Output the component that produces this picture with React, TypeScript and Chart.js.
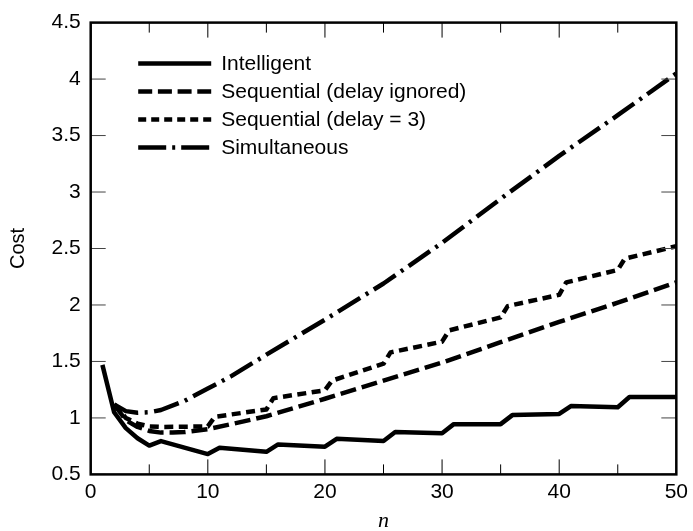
import React, { useEffect, useRef } from 'react';
import { Chart, registerables } from 'chart.js';

Chart.register(...registerables);

const SERIES_NAMES = [
  'Intelligent',
  'Sequential (delay ignored)',
  'Sequential (delay = 3)',
  'Simultaneous',
];

const INTELLIGENT_N = [1, 2, 3, 4, 5, 6, 10, 11, 15, 16, 20, 21, 25, 26, 30, 31, 35, 36, 40, 41, 45, 46, 50];
const INTELLIGENT_COST = [1.47, 1.05, 0.91, 0.82, 0.755, 0.795, 0.68, 0.735, 0.70, 0.765, 0.745, 0.815, 0.795, 0.875, 0.865, 0.945, 0.945, 1.025, 1.035, 1.105, 1.095, 1.185, 1.185];

const SEQ_IGNORED_N = [2, 3, 4, 5, 6, 7, 8, 10, 12, 15, 20, 25, 30, 35, 40, 45, 50];
const SEQ_IGNORED_COST = [1.12, 0.98, 0.92, 0.885, 0.87, 0.87, 0.875, 0.90, 0.945, 1.015, 1.17, 1.33, 1.49, 1.67, 1.85, 2.02, 2.2];

const SEQ_DELAY3_N = [2, 3, 4, 5, 6, 10, 10.6, 15, 15.6, 20, 20.6, 25, 25.6, 30, 30.6, 35, 35.6, 40, 40.6, 45, 45.6, 50];
const SEQ_DELAY3_COST = [1.12, 1.0, 0.95, 0.925, 0.92, 0.925, 1.01, 1.075, 1.175, 1.245, 1.33, 1.48, 1.58, 1.675, 1.775, 1.89, 1.99, 2.09, 2.2, 2.31, 2.41, 2.52];

const SIMULTANEOUS_N = [2, 3, 4, 5, 6, 8, 10, 12, 15, 20, 25, 30, 35, 40, 45, 50];
const SIMULTANEOUS_COST = [1.12, 1.06, 1.045, 1.05, 1.07, 1.15, 1.26, 1.37, 1.56, 1.87, 2.19, 2.55, 2.94, 3.32, 3.68, 4.05];

const X_MAJOR_TICKS = [0, 10, 20, 30, 40, 50];
const X_MINOR_TICKS = [5, 15, 25, 35, 45];
const Y_TICKS = [0.5, 1, 1.5, 2, 2.5, 3, 3.5, 4, 4.5];

const X_TITLE = 'n';
const Y_TITLE = 'Cost';

const SANS = '"Liberation Sans", Arial, Helvetica, sans-serif';
const SERIF = '"Liberation Serif", "Times New Roman", serif';

const toPoints = (xs: number[], ys: number[]) => xs.map((x, i) => ({ x, y: ys[i] }));

const framePlugin = {
  id: 'frameAndLegend',
  afterDatasetsDraw(chart: any) {
    const { ctx, chartArea: a, scales } = chart;
    const x = scales.x;
    const y = scales.y;
    ctx.save();
    ctx.strokeStyle = '#000';
    ctx.setLineDash([]);
    ctx.lineWidth = 1;
    ctx.beginPath();
    for (const v of X_MAJOR_TICKS) {
      const px = x.getPixelForValue(v);
      ctx.moveTo(px, a.bottom);
      ctx.lineTo(px, a.bottom - 15);
      ctx.moveTo(px, a.top);
      ctx.lineTo(px, a.top + 15);
    }
    for (const v of X_MINOR_TICKS) {
      const px = x.getPixelForValue(v);
      ctx.moveTo(px, a.bottom);
      ctx.lineTo(px, a.bottom - 10);
      ctx.moveTo(px, a.top);
      ctx.lineTo(px, a.top + 10);
    }
    ctx.stroke();
    ctx.strokeStyle = '#444';
    ctx.beginPath();
    for (const v of Y_TICKS) {
      const py = y.getPixelForValue(v);
      ctx.moveTo(a.left, py);
      ctx.lineTo(a.left + 15, py);
      ctx.moveTo(a.right, py);
      ctx.lineTo(a.right - 15, py);
    }
    ctx.stroke();
    ctx.strokeStyle = '#000';
    ctx.lineWidth = 2.5;
    ctx.strokeRect(a.left, a.top, a.right - a.left, a.bottom - a.top);

    // legend
    const lx0 = a.left + 47.5;
    const lx1 = a.left + 120.5;
    const tx = a.left + 130.5;
    const rowY0 = a.top + 40.8;
    const rowGap = 28;
    ctx.font = '21px ' + SANS;
    ctx.textBaseline = 'middle';
    ctx.textAlign = 'left';
    chart.data.datasets.forEach((ds: any, i: number) => {
      const ry = rowY0 + i * rowGap;
      ctx.save();
      ctx.lineWidth = 4.5;
      ctx.lineCap = 'butt';
      ctx.setLineDash(ds.legendDash || []);
      ctx.strokeStyle = '#000';
      ctx.beginPath();
      ctx.moveTo(lx0, ry);
      ctx.lineTo(lx1, ry);
      ctx.stroke();
      ctx.restore();
      ctx.fillStyle = '#000';
      ctx.fillText(ds.label, tx, ry + 1);
    });
    ctx.restore();
  },
};

export default function App() {
  const canvasRef = useRef<HTMLCanvasElement | null>(null);

  useEffect(() => {
    document.body.style.margin = '0';
    const canvas = canvasRef.current;
    if (!canvas) return;
    const common = {
      borderColor: '#000',
      backgroundColor: '#000',
      borderWidth: 4.5,
      pointRadius: 0,
      fill: false,
      tension: 0,
      borderCapStyle: 'butt',
      borderJoinStyle: 'round',
    };
    const chart = new Chart(canvas, {
      type: 'line',
      data: {
        datasets: [
          { ...common, label: SERIES_NAMES[0], data: toPoints(INTELLIGENT_N, INTELLIGENT_COST), borderDash: [], legendDash: [] },
          { ...common, label: SERIES_NAMES[1], data: toPoints(SEQ_IGNORED_N, SEQ_IGNORED_COST), borderDash: [16, 6], legendDash: [14, 5.7] },
          { ...common, label: SERIES_NAMES[2], data: toPoints(SEQ_DELAY3_N, SEQ_DELAY3_COST), borderDash: [9, 5.5], legendDash: [8, 5] },
          { ...common, label: SERIES_NAMES[3], data: toPoints(SIMULTANEOUS_N, SIMULTANEOUS_COST), borderDash: [26, 6.5, 3, 6.5], legendDash: [28, 6, 3, 6] },
        ] as any,
      },
      options: {
        animation: false,
        responsive: false,
        maintainAspectRatio: false,
        layout: { padding: { left: 0, right: 11.3, top: 13.3, bottom: 0 } },
        plugins: { legend: { display: false }, tooltip: { enabled: false } },
        scales: {
          x: {
            type: 'linear',
            min: 0,
            max: 50,
            grid: { display: false, drawTicks: false },
            border: { display: false },
            ticks: {
              stepSize: 10,
              color: '#000',
              padding: 5,
              font: { size: 21, family: SANS },
              maxRotation: 0,
              callback: (v: any) => String(v),
            },
            afterBuildTicks: (s: any) => {
              s.ticks = X_MAJOR_TICKS.map((v) => ({ value: v }));
            },
            title: {
              display: true,
              text: X_TITLE,
              color: '#000',
              font: { size: 22, family: SERIF, style: 'italic', lineHeight: 0.9 },
              padding: { top: 0, bottom: 0 },
            },
            afterFit: (s: any) => {
              s.height = 56.6;
            },
          },
          y: {
            type: 'linear',
            min: 0.5,
            max: 4.5,
            grid: { display: false, drawTicks: false },
            border: { display: false },
            ticks: {
              stepSize: 0.5,
              color: '#000',
              padding: 10,
              font: { size: 21, family: SANS },
              callback: (v: any) => String(v),
            },
            afterBuildTicks: (s: any) => {
              s.ticks = Y_TICKS.map((v) => ({ value: v }));
            },
            title: {
              display: true,
              text: Y_TITLE,
              color: '#000',
              font: { size: 20, family: SANS, lineHeight: 1.2 },
              padding: { top: 6, bottom: 0 },
            },
            afterFit: (s: any) => {
              s.width = 90.7;
            },
          },
        },
      } as any,
      plugins: [framePlugin],
    });
    return () => chart.destroy();
  }, []);

  return (
    <div style={{ width: 693, height: 531, background: '#fff' }}>
      <canvas ref={canvasRef} width={693} height={531} style={{ display: 'block', width: 693, height: 531 }} />
    </div>
  );
}
